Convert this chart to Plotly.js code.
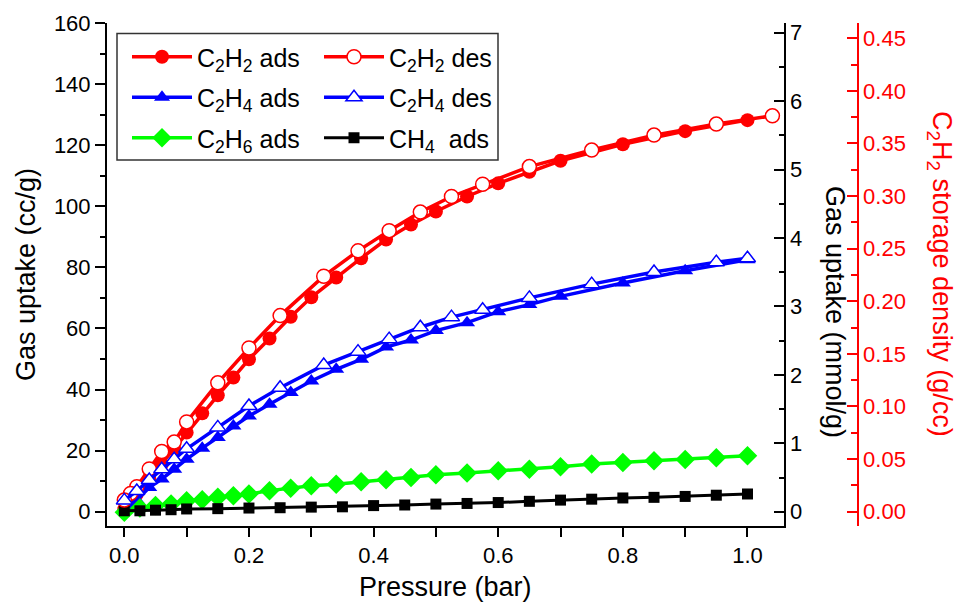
<!DOCTYPE html>
<html>
<head>
<meta charset="utf-8">
<script src="https://cdn.plot.ly/plotly-3.0.1.min.js"></script>
<style>html,body{margin:0;padding:0;background:#fff;}#chart{width:962px;height:605px;}</style>
</head>
<body>
<div id="chart"></div>
<script>
// ---- data (pressure in bar, uptake in cc/g) ----
var c2h2AdsP = [0, 0.01, 0.02, 0.04, 0.06, 0.08, 0.10, 0.125, 0.15, 0.175, 0.20, 0.233, 0.267, 0.30, 0.34, 0.38, 0.42, 0.46, 0.50, 0.55, 0.60, 0.65, 0.70, 0.80, 0.90, 1.00];
var c2h2AdsV = [0.8, 3.3, 5.8, 10.8, 15.6, 20.6, 25.9, 32.2, 38.1, 43.9, 49.9, 56.7, 63.8, 70.2, 76.7, 83.0, 89.1, 94.0, 98.3, 103.2, 107.5, 111.3, 114.9, 120.3, 124.6, 128.2];

var c2h2DesP = [1.04, 0.95, 0.85, 0.75, 0.65, 0.575, 0.525, 0.475, 0.425, 0.375, 0.32, 0.25, 0.20, 0.15, 0.10, 0.08, 0.06, 0.04, 0.02, 0.01, 0];
var c2h2DesV = [129.6, 126.9, 123.3, 118.4, 113.0, 107.2, 103.2, 98.1, 92.0, 85.4, 77.1, 64.2, 53.6, 42.2, 29.4, 22.8, 19.7, 14.0, 8.2, 6.0, 3.8];

var c2h4AdsP = [0, 0.01, 0.02, 0.04, 0.06, 0.08, 0.10, 0.125, 0.15, 0.175, 0.20, 0.233, 0.267, 0.30, 0.34, 0.38, 0.42, 0.46, 0.50, 0.55, 0.60, 0.65, 0.70, 0.80, 0.90, 1.00];
var c2h4AdsV = [0.5, 2.0, 3.8, 7.9, 10.7, 13.9, 17.2, 20.8, 24.3, 28.1, 31.3, 35.2, 39.0, 42.8, 46.6, 49.9, 53.9, 56.2, 59.3, 61.9, 65.5, 67.8, 70.5, 74.9, 78.9, 82.5];

var c2h4DesP = [1.00, 0.95, 0.85, 0.75, 0.65, 0.575, 0.525, 0.475, 0.425, 0.375, 0.32, 0.25, 0.20, 0.15, 0.10, 0.08, 0.06, 0.04, 0.02, 0];
var c2h4DesV = [83.0, 81.7, 78.5, 74.5, 70.0, 66.1, 63.7, 60.4, 56.5, 52.4, 48.0, 40.6, 34.6, 27.6, 20.6, 17.2, 13.9, 10.4, 6.8, 3.7];

var c2h6AdsP = [0, 0.025, 0.05, 0.075, 0.10, 0.125, 0.15, 0.175, 0.20, 0.233, 0.267, 0.30, 0.34, 0.38, 0.42, 0.46, 0.50, 0.55, 0.60, 0.65, 0.70, 0.75, 0.80, 0.85, 0.90, 0.95, 1.00];
var c2h6AdsV = [-0.2, 1.2, 2.0, 2.5, 3.6, 3.9, 4.7, 5.2, 5.8, 6.9, 7.7, 8.5, 9.0, 9.8, 10.5, 11.2, 12.1, 12.7, 13.4, 13.9, 14.7, 15.6, 16.1, 16.7, 17.1, 17.7, 18.3];

var ch4AdsP = [0, 0.025, 0.05, 0.075, 0.10, 0.15, 0.20, 0.25, 0.30, 0.35, 0.40, 0.45, 0.50, 0.55, 0.60, 0.65, 0.70, 0.75, 0.80, 0.85, 0.90, 0.95, 1.00];
var ch4AdsV = [0.3, 0.3, 0.5, 0.65, 0.9, 1.0, 1.2, 1.3, 1.5, 1.6, 2.0, 2.2, 2.5, 2.7, 3.0, 3.4, 3.8, 4.1, 4.5, 4.7, 5.0, 5.4, 5.8];

var seriesNames = ['C<sub>2</sub>H<sub>2</sub> ads', 'C<sub>2</sub>H<sub>2</sub> des', 'C<sub>2</sub>H<sub>4</sub> ads', 'C<sub>2</sub>H<sub>4</sub> des', 'C<sub>2</sub>H<sub>6</sub> ads', 'CH<sub>4</sub>  ads'];

var xTickVals = [0, 0.2, 0.4, 0.6, 0.8, 1.0];
var leftTickVals = [0, 20, 40, 60, 80, 100, 120, 140, 160];
var mmolTickVals = [0, 1, 2, 3, 4, 5, 6, 7];
var densTickVals = [0, 0.05, 0.10, 0.15, 0.20, 0.25, 0.30, 0.35, 0.40, 0.45];

// ---- styling ----
var FONT = 'Liberation Sans, Arial, sans-serif';
var RED = '#ff0000', BLUE = '#0000ff', GREEN = '#00ff00', BLACK = '#000000';
var W = 962, H = 605, ML = 107, MR = 60, MT = 23, MB = 79;
var PW = W - ML - MR, PH = H - MT - MB;
var xEnd = (783.5 - ML) / PW;          // end of main plot area
var px = function (p) { return (p - ML) / PW; };
var py = function (p) { return (H - MB - p) / PH; };

function tr(x, y, name, color, symbol, fill, size, lw, legend) {
  return {
    x: x, y: y, name: name, type: 'scatter', mode: 'lines+markers',
    xaxis: 'x', yaxis: 'y', legend: legend, legendgroup: name,
    line: {color: color, width: lw},
    marker: {symbol: symbol, size: size, color: fill, line: {color: color, width: fill === '#ffffff' ? 1.5 : 0}}
  };
}

var data = [
  tr(c2h2AdsP, c2h2AdsV, seriesNames[0], RED, 'circle', RED, 14, 3.5, 'legend'),
  tr(c2h4AdsP, c2h4AdsV, seriesNames[2], BLUE, 'triangle-up', BLUE, 14, 3.5, 'legend'),
  tr(c2h6AdsP, c2h6AdsV, seriesNames[4], GREEN, 'diamond', GREEN, 15, 3.5, 'legend'),
  tr(ch4AdsP, ch4AdsV, seriesNames[5], BLACK, 'square', BLACK, 11, 3, 'legend2'),
  tr(c2h2DesP, c2h2DesV, seriesNames[1], RED, 'circle', '#ffffff', 14, 3.5, 'legend2'),
  tr(c2h4DesP, c2h4DesV, seriesNames[3], BLUE, 'triangle-up', '#ffffff', 14, 3.5, 'legend2'),
  // empty carriers so that the two secondary axes are drawn
  {x: [], y: [], type: 'scatter', mode: 'markers', xaxis: 'x', yaxis: 'y2', showlegend: false, hoverinfo: 'skip'},
  {x: [], y: [], type: 'scatter', mode: 'markers', xaxis: 'x', yaxis: 'y3', showlegend: false, hoverinfo: 'skip'}
];

var xr = [-0.0278, 1.0578];
var yr = [-4.68, 160];
var RATIO = 22.4;
var TICK = 22, TITLE = 27;

var layout = {
  width: W, height: H,
  margin: {l: ML, r: MR, t: MT, b: MB, pad: 0},
  paper_bgcolor: '#ffffff', plot_bgcolor: '#ffffff',
  font: {family: FONT, size: TICK, color: BLACK},
  showlegend: true,
  xaxis: {
    domain: [0, xEnd], range: xr, anchor: 'y',
    showline: true, linecolor: BLACK, linewidth: 2, mirror: false,
    showgrid: false, zeroline: false,
    tickmode: 'array', tickvals: xTickVals, tickformat: '.1f',
    ticks: 'outside', ticklen: 9, tickwidth: 2, tickcolor: BLACK,
    minor: {dtick: 0.1, tick0: 0, ticks: 'outside', ticklen: 9, tickwidth: 2, tickcolor: BLACK, showgrid: false},
    tickfont: {size: TICK},
    title: {text: 'Pressure (bar)', font: {size: TITLE}, standoff: 10}
  },
  xaxis2: {
    domain: [0, xEnd], range: xr, overlaying: 'x', anchor: 'y', side: 'top',
    showline: true, linecolor: BLACK, linewidth: 2,
    showgrid: false, zeroline: false, showticklabels: false,
    dtick: 0.1, tick0: 0, ticks: 'inside', ticklen: 9, tickwidth: 2, tickcolor: BLACK
  },
  yaxis: {
    range: yr, anchor: 'x',
    showline: true, linecolor: BLACK, linewidth: 2,
    showgrid: false, zeroline: false,
    tickmode: 'array', tickvals: leftTickVals,
    ticks: 'outside', ticklen: 10, tickwidth: 2, tickcolor: BLACK,
    minor: {dtick: 10, tick0: 0, ticks: 'outside', ticklen: 5, tickwidth: 2, tickcolor: BLACK, showgrid: false},
    tickfont: {size: TICK},
    title: {text: 'Gas uptake (cc/g)', font: {size: TITLE}, standoff: 10}
  },
  yaxis2: {
    range: [yr[0] / RATIO, yr[1] / RATIO], overlaying: 'y', anchor: 'x', side: 'right',
    showline: true, linecolor: BLACK, linewidth: 2,
    showgrid: false, zeroline: false,
    tickmode: 'array', tickvals: mmolTickVals,
    ticks: 'inside', ticklen: 10, tickwidth: 2, tickcolor: BLACK,
    minor: {dtick: 0.5, tick0: 0, ticks: 'inside', ticklen: 5, tickwidth: 2, tickcolor: BLACK, showgrid: false},
    tickfont: {size: TICK}
  },
  yaxis3: {
    range: [-0.0136, 0.4645], overlaying: 'y', anchor: 'free', position: px(857.7), side: 'right',
    showline: true, linecolor: RED, linewidth: 2,
    showgrid: false, zeroline: false,
    tickmode: 'array', tickvals: densTickVals, tickformat: '.2f',
    ticks: 'inside', ticklen: 10, tickwidth: 2, tickcolor: RED,
    minor: {dtick: 0.025, tick0: 0, ticks: 'inside', ticklen: 6, tickwidth: 2, tickcolor: RED, showgrid: false},
    tickfont: {size: TICK, color: RED}
  },
  legend: {
    x: px(127), y: py(34), xanchor: 'left', yanchor: 'top',
    bgcolor: 'rgba(0,0,0,0)', borderwidth: 0,
    font: {size: 25, color: BLACK}, itemwidth: 60,
    traceorder: 'grouped', tracegroupgap: 5, itemclick: false
  },
  legend2: {
    x: px(319), y: py(34), xanchor: 'left', yanchor: 'top',
    bgcolor: 'rgba(0,0,0,0)', borderwidth: 0,
    font: {size: 25, color: BLACK}, itemwidth: 60,
    traceorder: 'grouped', tracegroupgap: 5, itemclick: false
  },
  shapes: [
    {type: 'rect', xref: 'paper', yref: 'paper', x0: px(117), x1: px(498), y0: py(160), y1: py(33.5),
     line: {color: '#333333', width: 1.5}, fillcolor: 'rgba(0,0,0,0)', layer: 'above'}
  ],
  annotations: [
    {text: 'Gas uptake (mmol/g)', xref: 'paper', yref: 'paper', x: px(835), y: py(312),
     textangle: 90, showarrow: false, font: {size: TITLE, color: BLACK}, xanchor: 'center', yanchor: 'middle'},
    {text: 'C<sub>2</sub>H<sub>2</sub> storage density (g/cc)', xref: 'paper', yref: 'paper', x: px(940), y: py(274),
     textangle: 90, showarrow: false, font: {size: TITLE, color: RED}, xanchor: 'center', yanchor: 'middle'}
  ]
};

// legend order: column 1 = C2H2/C2H4/C2H6 ads, column 2 = C2H2 des, C2H4 des, CH4 ads
data[0].legendrank = 1; data[1].legendrank = 2; data[2].legendrank = 3;
data[4].legendrank = 1; data[5].legendrank = 2; data[3].legendrank = 3;

Plotly.newPlot('chart', data, layout, {displayModeBar: false, staticPlot: true});
</script>
</body>
</html>
